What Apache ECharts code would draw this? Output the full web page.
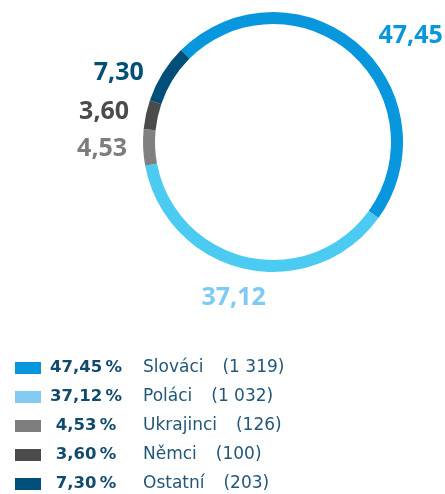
<!DOCTYPE html>
<html><head><meta charset="utf-8">
<script src="https://cdn.jsdelivr.net/npm/echarts@6/dist/echarts.min.js"></script>
<style>html,body{margin:0;padding:0;background:#fff}#c{width:445px;height:494px}</style>
</head><body><div id="c"></div>
<script>
const names = ['Slováci','Poláci','Ukrajinci','Němci','Ostatní'];
const shares = [47.45, 37.12, 4.53, 3.60, 7.30];
const counts = ['1 319','1 032','126','100','203'];
const ringColors = ['#0896dc','#4ccbf2','#808080','#4b4b4b','#004f79'];
const legendColors = ['#0896dc','#82caf0','#7d7d7d','#4b4b4b','#004f79'];
const labelColors = ['#0896dc','#7ecaf2','#7d7d7d','#4b4b4b','#004f79'];
const labelShift = [[11,-1],[28,21],[-3,1],[-4,-1],[-7,4]];

const fmt = v => v.toFixed(2).replace('.', ',');
const chart = echarts.init(document.getElementById('c'), null, {renderer:'canvas'});
chart.setOption({
  animation:false,
  legend:{
    orient:'vertical', left:15, top:358, padding:0,
    itemWidth:26, itemHeight:12, itemGap:9,
    icon:'rect',
    selectedMode:false,
    data: names.map((n,i)=>({name:n, itemStyle:{color:legendColors[i]}})),
    formatter: name => {
      const i = names.indexOf(name);
      return '{p|' + fmt(shares[i]) + '\u2009%}{n|' + name + '}{c|(' + counts[i] + ')}';
    },
    textStyle:{
      lineHeight:20,
      rich:{
        p:{fontFamily:'DejaVu Sans', fontWeight:'bold', fontSize:16.5, color:'#114a6c', width:80, align:'right', lineHeight:20},
        n:{fontFamily:'DejaVu Sans', fontSize:17, color:'#225779', padding:[0,0,0,17], lineHeight:20},
        c:{fontFamily:'DejaVu Sans', fontSize:17, color:'#225779', padding:[0,0,0,19], lineHeight:20}
      }
    }
  },
  series:[{
    type:'pie',
    center:[273,142],
    radius:[118,130],
    startAngle:135,
    clockwise:true,
    silent:true,
    label:{
      show:true, position:'outside', overflow:'none',
      fontFamily:'Noto Sans', fontWeight:'bold', fontSize:25,
      formatter: p => fmt(shares[p.dataIndex])
    },
    labelLine:{show:false, length:8, length2:0},
    labelLayout: p => ({dx: labelShift[p.dataIndex][0], dy: labelShift[p.dataIndex][1]}),
    data: names.map((n,i)=>({name:n, value:shares[i], itemStyle:{color:ringColors[i]}, label:{color:labelColors[i]}}))
  }]
});
</script></body></html>
